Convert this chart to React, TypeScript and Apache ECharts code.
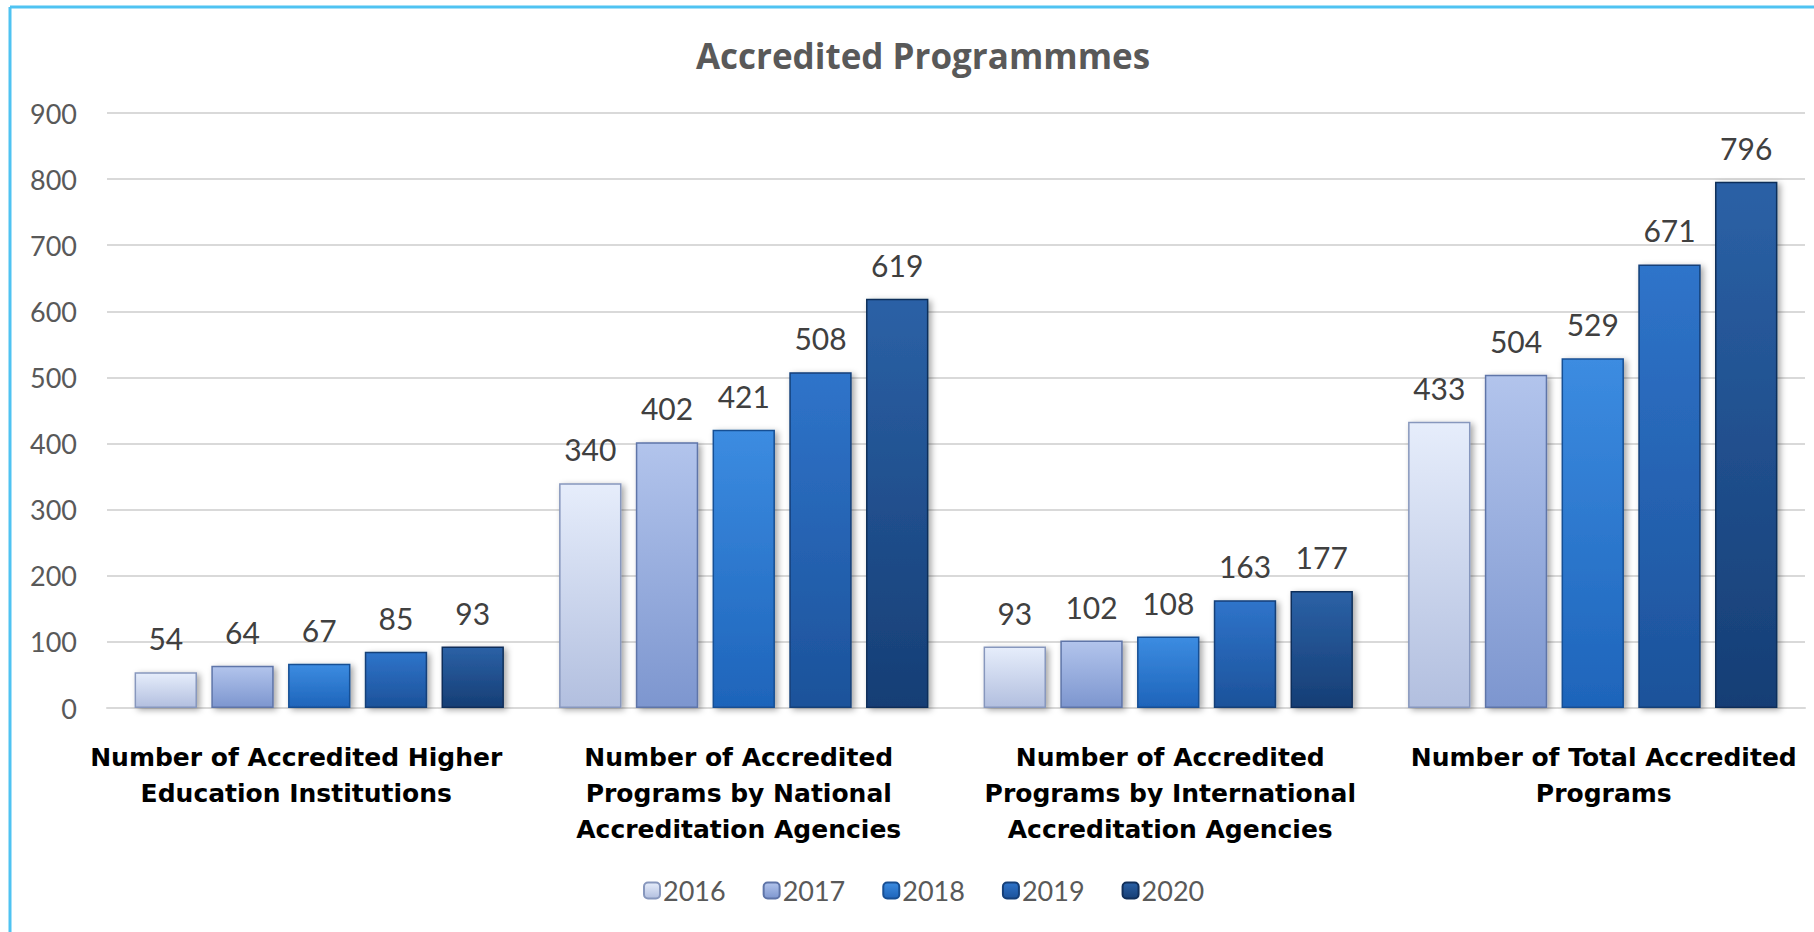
import React, { useEffect, useRef } from "react";
import * as echarts from "echarts";

const categories = [
  "Number of Accredited Higher\nEducation Institutions",
  "Number of Accredited\nPrograms by National\nAccreditation Agencies",
  "Number of Accredited\nPrograms by International\nAccreditation Agencies",
  "Number of Total Accredited\nPrograms",
];
const years = ["2016", "2017", "2018", "2019", "2020"];
const v2016 = [54, 340, 93, 433];
const v2017 = [64, 402, 102, 504];
const v2018 = [67, 421, 108, 529];
const v2019 = [85, 508, 163, 671];
const v2020 = [93, 619, 177, 796];
const seriesValues = [v2016, v2017, v2018, v2019, v2020];
const yTicks = { min: 0, max: 900, interval: 100 };

// horizontal nudge of each category label (style only)
const labelPadding = [
  [0, 46, 0, 0],
  [0, 10, 0, 0],
  [0, 0, 0, 4],
  [0, 0, 0, 22],
];

const palette = [
  { top: "#e6edfb", bottom: "#b2bfdf", border: "#8797bd" },
  { top: "#b2c4ec", bottom: "#7d96cf", border: "#5e74a8" },
  { top: "#3c8ce1", bottom: "#1e64ba", border: "#174f94" },
  { top: "#2f74ca", bottom: "#1c529a", border: "#153f78" },
  { top: "#2b61a6", bottom: "#163e75", border: "#112f5a" },
];

const FONT = "Lato, 'Open Sans', sans-serif";

export default function App() {
  const ref = useRef<HTMLDivElement>(null);
  useEffect(() => {
    if (!ref.current) return;
    const chart = echarts.init(ref.current, null, { renderer: "svg" });
    chart.setOption({
      animation: false,
      backgroundColor: "#ffffff",
      title: {
        text: "Accredited Programmmes",
        left: 918,
        top: 33,
        textAlign: "center",
        textStyle: { fontFamily: "'Open Sans', sans-serif", fontSize: 35, fontWeight: "bold", color: "#595959" },
      },
      legend: {
        data: years,
        left: 638,
        top: 872,
        itemWidth: 16,
        itemHeight: 16,
        itemGap: 37,
        textStyle: { fontFamily: FONT, fontSize: 27, color: "#595959", padding: [0, 0, 0, -2] },
      },
      grid: { left: 107, right: 9, top: 113, bottom: 224, containLabel: false },
      xAxis: {
        type: "category",
        data: categories.map((c, i) => ({ value: c, textStyle: { padding: labelPadding[i] } })),
        axisLine: { show: true, lineStyle: { color: "#d9d9d9", width: 2 } },
        axisTick: { show: false },
        axisLabel: {
          interval: 0,
          margin: 31,
          fontFamily: "'DejaVu Sans', sans-serif",
          fontSize: 25,
          fontWeight: "bold",
          color: "#000000",
          lineHeight: 36,
          align: "center",
        },
      },
      yAxis: {
        type: "value",
        min: yTicks.min,
        max: yTicks.max,
        interval: yTicks.interval,
        axisLine: { show: false },
        axisTick: { show: false },
        splitLine: { lineStyle: { color: "#d9d9d9", width: 2 } },
        axisLabel: { margin: 30, fontFamily: FONT, fontSize: 27, color: "#595959" },
      },
      series: years.map((y, i) => ({
        name: y,
        type: "bar",
        data: seriesValues[i],
        barGap: "23%",
        barCategoryGap: "13%",
        itemStyle: {
          color: new echarts.graphic.LinearGradient(0, 0, 0, 1, [
            { offset: 0, color: palette[i].top },
            { offset: 1, color: palette[i].bottom },
          ]),
          borderColor: palette[i].border,
          borderWidth: 1.5,
          shadowBlur: 6,
          shadowColor: "rgba(0,0,0,0.35)",
          shadowOffsetX: 3,
          shadowOffsetY: 2,
        },
        label: {
          show: true,
          position: "top",
          distance: 19,
          fontFamily: FONT,
          fontSize: 30,
          color: "#404040",
        },
      })),
      graphic: [
        {
          type: "line",
          shape: { x1: 10, y1: 7, x2: 1814, y2: 7 },
          style: { stroke: "#4fc3f2", lineWidth: 3 },
        },
        {
          type: "line",
          shape: { x1: 10, y1: 7, x2: 10, y2: 932 },
          style: { stroke: "#4fc3f2", lineWidth: 3 },
        },
      ],
    });
    return () => chart.dispose();
  }, []);
  return (
    <div
      ref={ref}
      style={{ position: "fixed", left: 0, top: 0, width: 1814, height: 932 }}
    />
  );
}
